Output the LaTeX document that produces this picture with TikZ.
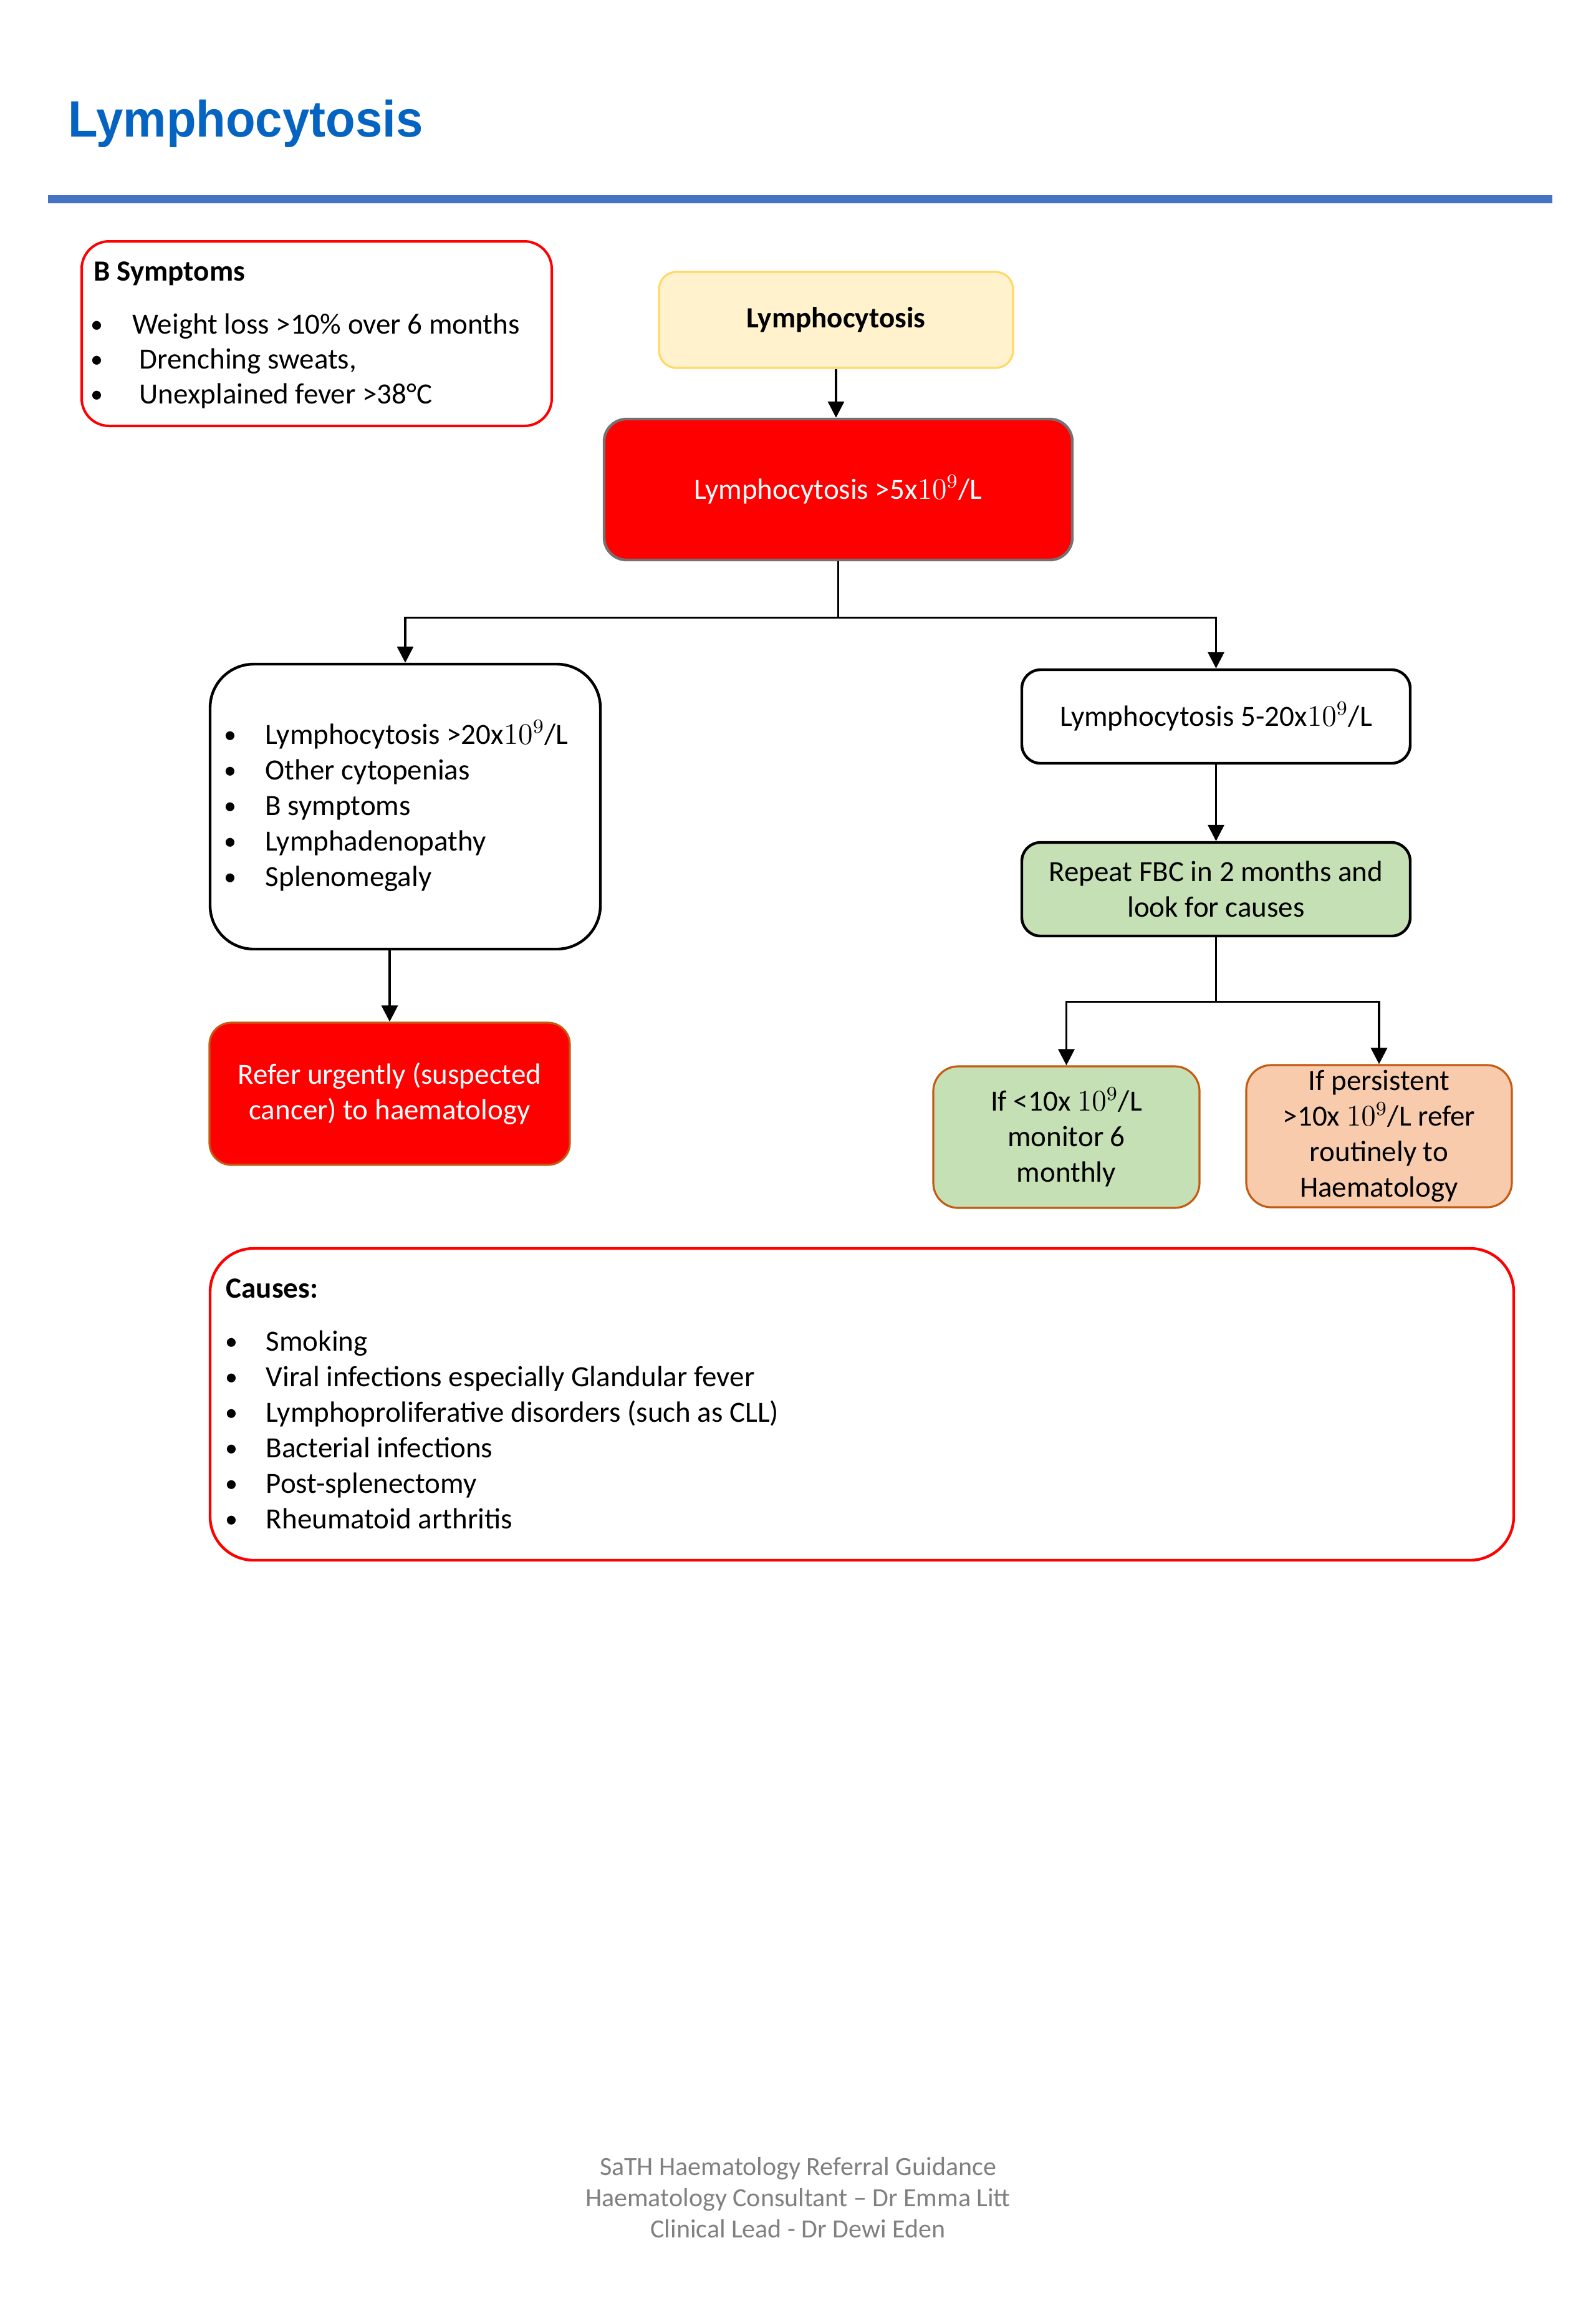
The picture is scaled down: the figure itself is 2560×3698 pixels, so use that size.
\documentclass[tikz,border=0pt]{standalone}
\usepackage{graphicx}
\usepackage{fontspec}
\setmainfont{Carlito}
\newfontfamily\titlefont{Liberation Sans}
\usetikzlibrary{arrows.meta,calc}
\definecolor{titleblue}{HTML}{0563C1}
\definecolor{lineblue}{HTML}{4472C4}
\definecolor{boxred}{HTML}{FF0000}
\definecolor{yfill}{HTML}{FFF2CC}
\definecolor{ydraw}{HTML}{FFD966}
\definecolor{graydraw}{HTML}{767171}
\definecolor{gfill}{HTML}{C5E0B4}
\definecolor{ofill}{HTML}{F8CBAD}
\definecolor{odraw}{HTML}{C55A11}
\definecolor{footgray}{HTML}{808080}
\newcommand{\bodyfont}{\fontsize{11.75pt}{14.2pt}\selectfont}
\newcommand{\footfont}{\fontsize{10.5pt}{12.5pt}\selectfont}
\newcommand{\bulfont}{\fontsize{10pt}{12pt}\selectfont}
\newcommand{\bulmark}{\raisebox{0.4pt}{•}}
\begin{document}
\begin{tikzpicture}[x=0.25pt,y=-0.25pt,
  every node/.style={font=\bodyfont},
  flow/.style={draw, line width=1.1pt, align=center, inner sep=0pt},
  lbl/.style={anchor=base west, inner sep=0pt},
  bul/.style={anchor=base, inner sep=0pt, font=\bulfont},
  foot/.style={anchor=base, inner sep=0pt, text=footgray, font=\footfont},
  arr/.style={line width=0.85pt, -{Triangle[length=6.5pt,width=6.5pt]}},
  conn/.style={line width=0.85pt}]
\useasboundingbox (0,0) rectangle (2560,3698);
\fill[white] (0,0) rectangle (2560,3698);

% title and rule
\node[anchor=base west, inner sep=0pt, text=titleblue,
  font=\titlefont\bfseries\fontsize{20.5pt}{24pt}\selectfont] (title) at (109,219)
  {\scalebox{0.95}[1]{Lymphocytosis}};
\coordinate (ruleL) at (77,319.5);
\coordinate (ruleR) at (2490,319.5);
\draw[line width=3.25pt, lineblue] (ruleL) -- (ruleR);

% B symptoms box
\node[flow, draw=boxred, line width=1pt, rounded corners=11pt,
  minimum width=188.5pt, minimum height=74pt] (bsym) at (508,535) {};
\node[lbl, font=\bodyfont\bfseries] (bsymT) at (150,450) {B Symptoms};
\node[bul] (bsb1) at (155,535) {\bulmark};
\node[lbl] (bs1) at (212,535) {Weight loss >10\% over 6 months};
\node[bul] (bsb2) at (155,591) {\bulmark};
\node[lbl] (bs2) at (223,591) {Drenching sweats,};
\node[bul] (bsb3) at (155,647) {\bulmark};
\node[lbl] (bs3) at (223,647) {Unexplained fever >38°C};

% top flow
\node[flow, fill=yfill, draw=ydraw, line width=0.8pt, rounded corners=7pt,
  minimum width=142pt, minimum height=38.5pt, font=\bodyfont\bfseries] (top) at (1341,513) {Lymphocytosis};
\node[flow, fill=boxred, draw=graydraw, line width=1.1pt, rounded corners=9pt, text=white,
  minimum width=187.75pt, minimum height=56.5pt] (main) at (1344.5,785) {Lymphocytosis >5x$10^{9}$/L};
\draw[arr] (top.south) -- (top.south |- main.north);

% left branch
\node[flow, rounded corners=17.5pt, minimum width=156.5pt, minimum height=114.25pt] (left) at (650,1293.5) {};
\node[bul] (lb1) at (369,1193) {\bulmark};
\node[lbl] (l1) at (425,1193) {Lymphocytosis >20x$10^{9}$/L};
\node[bul] (lb2) at (369,1250) {\bulmark};
\node[lbl] (l2) at (425,1250) {Other cytopenias};
\node[bul] (lb3) at (369,1307) {\bulmark};
\node[lbl] (l3) at (425,1307) {B symptoms};
\node[bul] (lb4) at (369,1364) {\bulmark};
\node[lbl] (l4) at (425,1364) {Lymphadenopathy};
\node[bul] (lb5) at (369,1421) {\bulmark};
\node[lbl] (l5) at (425,1421) {Splenomegaly};

\node[flow, fill=boxred, draw=odraw, line width=0.8pt, rounded corners=8.75pt, text=white,
  minimum width=144.5pt, minimum height=57pt] (refer) at (625,1754)
  {Refer urgently (suspected\\cancer) to haematology};

% right branch
\node[flow, rounded corners=7.5pt, minimum width=155.75pt, minimum height=37.5pt] (mid) at (1950.5,1149)
  {Lymphocytosis 5-20x$10^{9}$/L};
\node[flow, fill=gfill, rounded corners=7.5pt, minimum width=155.75pt, minimum height=37.5pt] (rep) at (1950.5,1426)
  {Repeat FBC in 2 months and\\look for causes};
\node[flow, fill=gfill, draw=odraw, line width=0.8pt, rounded corners=10pt,
  minimum width=106.75pt, minimum height=56.75pt] (mon) at (1710.5,1823.5)
  {If <10x $10^{9}$/L\\monitor 6\\monthly};
\node[flow, fill=ofill, draw=odraw, line width=0.8pt, rounded corners=10pt,
  minimum width=106.5pt, minimum height=57pt] (pers) at (2212,1822)
  {If persistent\\>10x $10^{9}$/L refer\\routinely to\\Haematology};

% connectors
\draw[conn] (main.south) -- ++(0,90) coordinate (j1);
\draw[arr] (j1) -| (left.north);
\draw[arr] (j1) -| (mid.north);
\draw[arr] (left.south -| refer.north) -- (refer.north);
\draw[arr] (mid.south) -- (rep.north);
\draw[conn] (rep.south) -- ++(0,103) coordinate (j2);
\draw[arr] (j2) -| (mon.north);
\draw[arr] (j2) -| (pers.north);

% causes
\node[flow, draw=boxred, line width=1.1pt, rounded corners=17.5pt,
  minimum width=522.75pt, minimum height=125pt] (causes) at (1382.5,2252) {};
\node[lbl, font=\bodyfont\bfseries] (cT) at (362,2081) {Causes:};
\node[bul] (cb1) at (371,2166) {\bulmark};
\node[lbl] (c1) at (426,2166) {Smoking};
\node[bul] (cb2) at (371,2223) {\bulmark};
\node[lbl] (c2) at (426,2223) {Viral infections especially Glandular fever};
\node[bul] (cb3) at (371,2280) {\bulmark};
\node[lbl] (c3) at (426,2280) {Lymphoproliferative disorders (such as CLL)};
\node[bul] (cb4) at (371,2337) {\bulmark};
\node[lbl] (c4) at (426,2337) {Bacterial infections};
\node[bul] (cb5) at (371,2394) {\bulmark};
\node[lbl] (c5) at (426,2394) {Post-splenectomy};
\node[bul] (cb6) at (371,2451) {\bulmark};
\node[lbl] (c6) at (426,2451) {Rheumatoid arthritis};

% footer
\node[foot] (f1) at (1280,3488) {SaTH Haematology Referral Guidance};
\node[foot] (f2) at (1280,3538) {Haematology Consultant – Dr Emma Litt};
\node[foot] (f3) at (1280,3588) {Clinical Lead - Dr Dewi Eden};
\end{tikzpicture}
\end{document}
